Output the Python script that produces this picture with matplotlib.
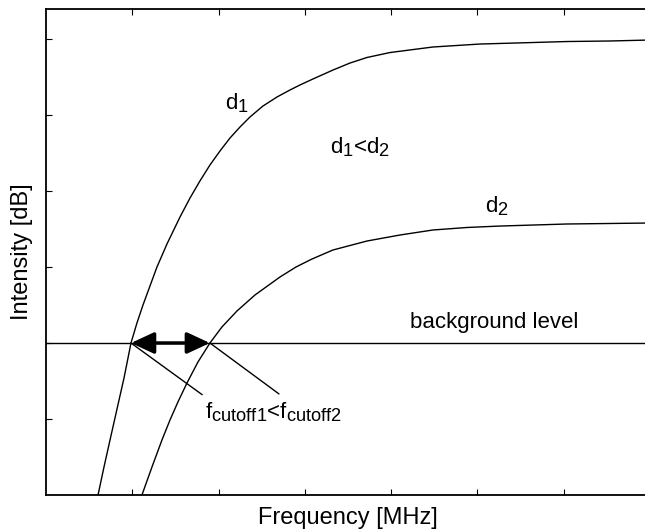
import matplotlib
matplotlib.use("Agg")
import matplotlib.pyplot as plt
import matplotlib._mathtext as mtext

plt.rcParams['font.family'] = ['Liberation Sans', 'DejaVu Sans']
plt.rcParams['mathtext.default'] = 'regular'
# subscripts in the original are nearly full size
mtext.SHRINK_FACTOR = 0.82

# curve d1 (tick units)
d1_x = [0.603, 0.672, 0.742, 0.823, 0.904, 0.985, 1.054, 1.124, 1.205, 1.286, 1.402,
        1.553, 1.669, 1.784, 1.900, 2.016, 2.132, 2.248, 2.364, 2.514, 2.677, 2.827,
        2.943, 3.094, 3.326, 3.523, 3.720, 3.986, 4.484, 5.029, 5.643, 6.037, 6.535, 7.0]
d1_y = [0.0, 0.368, 0.724, 1.132, 1.539, 2.0, 2.263, 2.5, 2.75, 3.0, 3.303,
        3.658, 3.908, 4.132, 4.342, 4.526, 4.697, 4.842, 4.974, 5.118, 5.237, 5.329,
        5.395, 5.474, 5.592, 5.684, 5.757, 5.822, 5.895, 5.934, 5.954, 5.967, 5.974, 5.987]

# curve d2
d2_x = [1.112, 1.228, 1.344, 1.437, 1.529, 1.634, 1.761, 1.900, 2.039, 2.213, 2.422,
        2.711, 2.897, 3.082, 3.326, 3.720, 4.102, 4.484, 4.878, 5.261, 6.037, 7.0]
d2_y = [0.0, 0.368, 0.724, 0.987, 1.224, 1.474, 1.750, 2.0, 2.211, 2.421, 2.632,
        2.868, 3.0, 3.105, 3.224, 3.342, 3.421, 3.487, 3.520, 3.539, 3.566, 3.579]

background = 2.0
cutoff1 = 0.985
cutoff2 = 1.90

x_ticks = [1, 2, 3, 4, 5, 6]
y_ticks = [1, 2, 3, 4, 5, 6]

fig = plt.figure(figsize=(6.45, 5.29), dpi=100)
ax = fig.add_axes([46/645, 34/529, 604/645, 486/529])

ax.plot(d1_x, d1_y, color='black', lw=1.0)
ax.plot(d2_x, d2_y, color='black', lw=1.0)
ax.axhline(background, color='black', lw=1.0)

# double arrow between the cutoffs
ax.annotate('', xy=(cutoff1, background), xytext=(cutoff2, background),
            arrowprops=dict(arrowstyle='<|-|>,head_length=1.4,head_width=0.65',
                            mutation_scale=10, lw=2.5, color='black',
                            shrinkA=0, shrinkB=0))

# leader lines to the label
ax.annotate('', xy=(cutoff1, background), xytext=(1.81, 1.32),
            arrowprops=dict(arrowstyle='-', lw=1.0, color='black', shrinkA=0, shrinkB=0))
ax.annotate('', xy=(cutoff2, background), xytext=(2.70, 1.33),
            arrowprops=dict(arrowstyle='-', lw=1.0, color='black', shrinkA=0, shrinkB=0))

ax.text(1.84, 1.01, r'$f_{cutoff1}$<$f_{cutoff2}$', fontsize=16, ha='left', va='baseline')
ax.text(2.21, 5.16, r'$d_1$', fontsize=16, ha='center', va='center')
ax.text(3.64, 4.5, r'$d_1$<$d_2$', fontsize=16, ha='center', va='baseline')
ax.text(5.23, 3.72, r'$d_2$', fontsize=16, ha='center', va='baseline')
ax.text(5.19, 2.2, 'background level', fontsize=16, ha='center', va='baseline')

ax.set_xlim(0, 7)
ax.set_ylim(0, 6.395)
ax.set_xticks(x_ticks)
ax.set_yticks(y_ticks)
ax.set_xticklabels([])
ax.set_yticklabels([])
ax.tick_params(direction='in', length=4, width=0.8, top=True, right=False)
for s in ax.spines.values():
    s.set_linewidth(1.3)
ax.spines['right'].set_visible(False)

ax.set_xlabel('Frequency [MHz]', fontsize=17, labelpad=5)
ax.set_ylabel('Intensity [dB]', fontsize=17, labelpad=6)

fig.savefig('out.png', dpi=100)
